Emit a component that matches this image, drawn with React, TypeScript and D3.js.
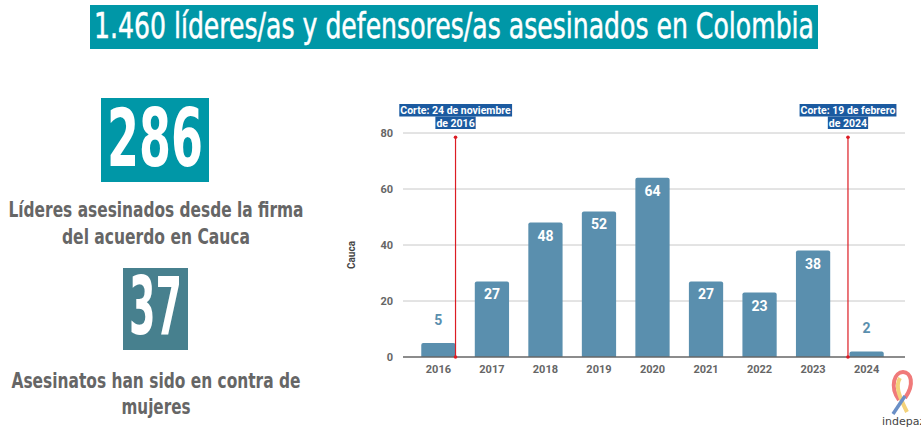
import * as d3 from "d3";
import { useEffect, useRef } from "react";

const years = ["2016", "2017", "2018", "2019", "2020", "2021", "2022", "2023", "2024"];
const killed = [5, 27, 48, 52, 64, 27, 23, 38, 2];
const yTicks = [0, 20, 40, 60, 80];
const cutoffs = [
  { year: "2016", side: "end", lines: ["Corte: 24 de noviembre", "de 2016"] },
  { year: "2024", side: "start", lines: ["Corte: 19 de febrero", "de 2024"] },
];

const TEAL = "#0097a7";
const BAR = "#5a8fae";
const GRAY = "#666";
const NARROW = "'Liberation Sans Narrow', 'DejaVu Sans Condensed', sans-serif";

export default function App() {
  const ref = useRef<SVGSVGElement>(null);

  useEffect(() => {
    const svg = d3.select(ref.current);
    svg.selectAll("*").remove();

    // --- title banner
    svg.append("rect").attr("x", 90).attr("y", 5).attr("width", 728).attr("height", 44).attr("fill", TEAL);
    const title = svg
      .append("text")
      .attr("x", 0)
      .attr("y", 0)
      .attr("text-anchor", "middle")
      .attr("font-family", NARROW)
      .attr("font-size", 36)
      .attr("fill", "#fff")
      .attr("stroke", "#fff")
      .attr("stroke-width", 0.5)
      .text("1.460 líderes/as y defensores/as asesinados en Colombia");
    const tw = (title.node() as SVGTextElement).getComputedTextLength();
    title.attr("transform", `translate(454,38) scale(${720 / tw},1)`);

    // --- left side stats
    const stat = (x: number, y: number, w: number, h: number, fill: string, label: string) => {
      svg.append("rect").attr("x", x).attr("y", y).attr("width", w).attr("height", h).attr("fill", fill);
      svg
        .append("text")
        .attr("x", x + w / 2)
        .attr("y", y + h - 16)
        .attr("text-anchor", "middle")
        .attr("font-family", NARROW)
        .attr("font-weight", "bold")
        .attr("font-size", 80)
        .attr("fill", "#fff")
        .attr("textLength", w - 12)
        .attr("lengthAdjust", "spacingAndGlyphs")
        .text(label);
    };
    stat(101, 98, 108, 84, TEAL, "286");
    stat(123, 268, 65, 82, "#47808e", "37");

    const caption = (lines: { t: string; y: number; w: number }[]) => {
      lines.forEach((l) =>
        svg
          .append("text")
          .attr("x", 156)
          .attr("y", l.y)
          .attr("text-anchor", "middle")
          .attr("font-family", NARROW)
          .attr("font-weight", "bold")
          .attr("font-size", 22)
          .attr("fill", GRAY)
          .attr("textLength", l.w)
          .attr("lengthAdjust", "spacingAndGlyphs")
          .text(l.t)
      );
    };
    caption([
      { t: "Líderes asesinados desde la firma", y: 217, w: 295 },
      { t: "del acuerdo en Cauca", y: 244, w: 188 },
    ]);
    caption([
      { t: "Asesinatos han sido en contra de", y: 388, w: 289 },
      { t: "mujeres", y: 414, w: 69 },
    ]);

    // --- bar chart
    const x = d3.scaleBand().domain(years).range([402, 903]).padding(0.36);
    const y = d3.scaleLinear().domain([0, 80]).range([357, 133]);
    const g = svg.append("g").attr("font-family", "Roboto, sans-serif");

    g.selectAll("line.grid")
      .data(yTicks.filter((t) => t > 0))
      .join("line")
      .attr("class", "grid")
      .attr("x1", 403)
      .attr("x2", 905)
      .attr("y1", (d) => y(d))
      .attr("y2", (d) => y(d))
      .attr("stroke", "#c8c8c8")
      .attr("stroke-width", 1);

    g.selectAll("text.ytick")
      .data(yTicks)
      .join("text")
      .attr("class", "ytick")
      .attr("x", 393)
      .attr("y", (d) => y(d) + 4)
      .attr("text-anchor", "end")
      .attr("font-size", 11)
      .attr("font-weight", "bold")
      .attr("fill", GRAY)
      .text((d) => d);

    g.append("text")
      .attr("transform", `translate(355,255) rotate(-90)`)
      .attr("text-anchor", "middle")
      .attr("font-size", 10)
      .attr("font-weight", "bold")
      .attr("fill", "#444")
      .text("Cauca");

    g.selectAll("path.bar")
      .data(killed)
      .join("path")
      .attr("class", "bar")
      .attr("fill", BAR)
      .attr("d", (d, i) => {
        const x0 = x(years[i]) ?? 0;
        const w = x.bandwidth();
        const top = y(d);
        const r = Math.min(2, (y(0) - top) / 2);
        return `M${x0},${y(0)}V${top + r}Q${x0},${top} ${x0 + r},${top}H${x0 + w - r}Q${x0 + w},${top} ${x0 + w},${top + r}V${y(0)}Z`;
      });

    g.selectAll("text.val")
      .data(killed)
      .join("text")
      .attr("class", "val")
      .attr("x", (d, i) => (x(years[i]) ?? 0) + x.bandwidth() / 2)
      .attr("y", (d) => (d < 10 ? y(d) - 18 : y(d) + 18))
      .attr("text-anchor", "middle")
      .attr("font-size", 14)
      .attr("font-weight", "bold")
      .attr("fill", (d) => (d < 10 ? BAR : "#fff"))
      .attr("stroke", (d) => (d < 10 ? "#fff" : "none"))
      .attr("stroke-width", 3)
      .attr("paint-order", "stroke")
      .text((d) => d);

    g.append("line")
      .attr("x1", 403)
      .attr("x2", 905)
      .attr("y1", y(0))
      .attr("y2", y(0))
      .attr("stroke", "#666")
      .attr("stroke-width", 1.5);

    g.selectAll("text.year")
      .data(years)
      .join("text")
      .attr("class", "year")
      .attr("x", (d) => (x(d) ?? 0) + x.bandwidth() / 2)
      .attr("y", 373)
      .attr("text-anchor", "middle")
      .attr("font-size", 11)
      .attr("font-weight", "bold")
      .attr("fill", GRAY)
      .text((d) => d);

    // cutoff markers
    cutoffs.forEach((c) => {
      const bx = x(c.year) ?? 0;
      const lx = c.side === "end" ? bx + x.bandwidth() : bx - 1.5;
      g.append("line")
        .attr("x1", lx)
        .attr("x2", lx)
        .attr("y1", y(78.5))
        .attr("y2", y(0))
        .attr("stroke", "#dc1c24")
        .attr("stroke-width", 1.2);
      [y(78.5), y(0)].forEach((cy) =>
        g.append("circle").attr("cx", lx).attr("cy", cy).attr("r", 1.8).attr("fill", "#dc1c24")
      );
      c.lines.forEach((t, i) => {
        const ty = 114 + i * 12.5;
        const txt = g
          .append("text")
          .attr("x", lx)
          .attr("y", ty)
          .attr("text-anchor", "middle")
          .attr("font-size", 10.5)
          .attr("font-weight", "bold")
          .attr("fill", "#fff")
          .text(t);
        const bb = (txt.node() as SVGTextElement).getBBox();
        g.insert("rect", () => txt.node())
          .attr("x", bb.x - 1)
          .attr("y", ty - 10)
          .attr("width", bb.width + 2)
          .attr("height", 12.5)
          .attr("fill", "#1b5aa0");
      });
    });

    // indepaz logo
    const logo = svg.append("g").attr("transform", "translate(901,392)");
    logo
      .append("path")
      .attr("d", "M-2,8 C-12,-6 -6,-20 2,-20 C10,-20 14,-8 4,6")
      .attr("fill", "none")
      .attr("stroke", "#f07a7a")
      .attr("stroke-width", 4);
    logo
      .append("path")
      .attr("d", "M-1,-14 C-6,-6 -2,4 6,20")
      .attr("fill", "none")
      .attr("stroke", "#f3d27a")
      .attr("stroke-width", 4);
    logo
      .append("path")
      .attr("d", "M4,4 C0,10 -4,16 -8,22")
      .attr("fill", "none")
      .attr("stroke", "#6a8fc6")
      .attr("stroke-width", 3.5);
    svg
      .append("text")
      .attr("x", 882)
      .attr("y", 425)
      .attr("font-family", "'DejaVu Sans', sans-serif")
      .attr("font-size", 11)
      .attr("fill", "#444")
      .text("indepaz");
  }, []);

  return (
    <svg
      ref={ref}
      width={921}
      height={431}
      style={{ position: "absolute", left: 0, top: 0, background: "#fff" }}
    />
  );
}
